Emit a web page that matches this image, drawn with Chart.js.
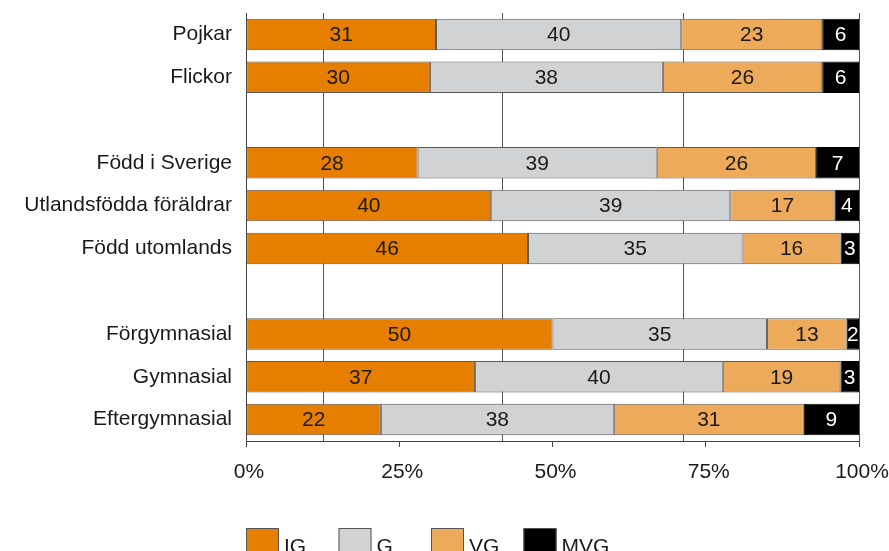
<!DOCTYPE html>
<html>
<head>
<meta charset="utf-8">
<script src="https://cdn.jsdelivr.net/npm/chart.js@4/dist/chart.umd.min.js"></script>
<style>
  html, body { margin: 0; padding: 0; background: #fff; }
  canvas { display: block; }
</style>
</head>
<body>
<canvas id="chart" width="889" height="551"></canvas>
<script>
// rows (empty strings are the gaps between groups)
const categories = ["Pojkar", "Flickor", "", "Född i Sverige", "Utlandsfödda föräldrar", "Född utomlands", "", "Förgymnasial", "Gymnasial", "Eftergymnasial"];
const seriesNames = ["IG", "G", "VG", "MVG"];
const ig  = [31, 30, null, 28, 40, 46, null, 50, 37, 22];
const g   = [40, 38, null, 39, 39, 35, null, 35, 40, 38];
const vg  = [23, 26, null, 26, 17, 16, null, 13, 19, 31];
const mvg = [6, 6, null, 7, 4, 3, null, 2, 3, 9];
const xTicks = [0, 25, 50, 75, 100];
// the odd vertical lines in the plot (percent of axis)
const gridLines = [12.6, 41.9, 71.4, 100];

const colors = ["#E67E00", "#D1D2D4", "#EEAA5B", "#000000"];
const textColors = ["#1a1a1a", "#1a1a1a", "#1a1a1a", "#ffffff"];
const FONT = "'Liberation Sans', Arial, sans-serif";

Chart.defaults.font.family = FONT;
Chart.defaults.color = "#1a1a1a";

let raw = [ig, g, vg, mvg];
let totals = categories.map((c, j) => raw.reduce((s, arr) => s + (arr[j] || 0), 0));

// 100% stacked: each row is scaled to its own total
let datasets = raw.map((arr, i) => ({
    label: seriesNames[i],
    data: arr.map((v, j) => v === null ? null : v / totals[j] * 100),
    rawValues: arr,
    backgroundColor: colors[i],
    borderColor: i === 3 ? "#000" : "#5a5a5a",
    borderWidth: 1,
    borderSkipped: false,
    categoryPercentage: 0.8,
    barPercentage: 0.92
}));

const valueLabels = {
    id: "valueLabels",
    afterDatasetsDraw(chart) {
        let ctx = chart.ctx;
        ctx.save();
        ctx.font = "21px " + FONT;
        ctx.textAlign = "center";
        ctx.textBaseline = "middle";
        chart.data.datasets.forEach((ds, i) => {
            chart.getDatasetMeta(i).data.forEach((bar, j) => {
                if (ds.rawValues[j] === null) return;
                let p = bar.getCenterPoint();
                ctx.fillStyle = textColors[i];
                ctx.fillText(ds.rawValues[j], p.x, p.y + 1);
            });
        });
        ctx.restore();
    }
};

const boxLegend = {
    id: "boxLegend",
    afterDraw(chart) {
        let ctx = chart.ctx;
        let left = chart.chartArea.left;
        ctx.save();
        ctx.font = "21px " + FONT;
        ctx.textBaseline = "alphabetic";
        chart.data.datasets.forEach((ds, i) => {
            let x = left + i * 92.5;
            ctx.fillStyle = ds.backgroundColor;
            ctx.fillRect(x, 528, 33, 30);
            ctx.strokeStyle = "#555";
            ctx.lineWidth = 1;
            ctx.strokeRect(x + 0.5, 528.5, 32, 30);
            ctx.fillStyle = "#1a1a1a";
            ctx.fillText(ds.label, x + 38, 553);
        });
        ctx.restore();
    }
};

new Chart(document.getElementById("chart"), {
    type: "bar",
    data: { labels: categories, datasets: datasets },
    options: {
        indexAxis: "y",
        responsive: false,
        animation: false,
        layout: { padding: { top: 13, right: 30, bottom: 60, left: 0 } },
        plugins: {
            legend: { display: false },
            tooltip: { enabled: false }
        },
        scales: {
            x: {
                type: "linear",
                position: "bottom",
                stacked: true,
                min: 0,
                max: 100,
                afterBuildTicks: axis => { axis.ticks = xTicks.map(v => ({ value: v })); },
                afterFit: axis => { axis.height = 50; axis.paddingLeft = 0; axis.paddingRight = 0; },
                ticks: {
                    callback: v => v + "%",
                    font: { size: 21 },
                    color: "#1a1a1a",
                    padding: 13,
                    labelOffset: 3,
                    maxRotation: 0
                },
                grid: { drawOnChartArea: false, drawTicks: true, tickLength: 6, color: "#444" },
                border: { display: true, color: "#444", width: 1 }
            },
            xg: {
                type: "linear",
                position: "top",
                min: 0,
                max: 100,
                afterBuildTicks: axis => { axis.ticks = gridLines.map(v => ({ value: v })); },
                afterFit: axis => { axis.height = 0; axis.paddingLeft = 0; axis.paddingRight = 0; },
                ticks: { display: false },
                grid: { drawTicks: false, color: "#555", lineWidth: 1 },
                border: { display: false }
            },
            y: {
                stacked: true,
                afterFit: axis => { axis.width = 246; axis.paddingTop = 0; axis.paddingBottom = 0; },
                ticks: { font: { size: 21 }, color: "#1a1a1a", padding: 14 },
                grid: { display: false, drawTicks: false },
                border: { display: true, color: "#444", width: 1 }
            }
        }
    },
    plugins: [valueLabels, boxLegend]
});
</script>
</body>
</html>
